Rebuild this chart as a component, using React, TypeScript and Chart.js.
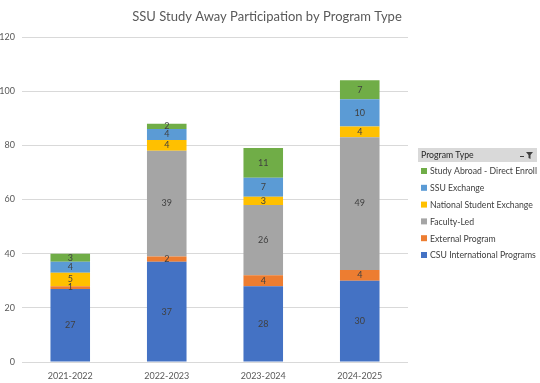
import React, { useEffect, useRef } from "react";
import { Chart, registerables } from "chart.js";

Chart.register(...registerables);

const categories = ["2021-2022", "2022-2023", "2023-2024", "2024-2025"];
const csuInternational = [27, 37, 28, 30];
const externalProgram = [1, 2, 4, 4];
const facultyLed = [0, 39, 26, 49];
const nationalStudentExchange = [5, 4, 3, 4];
const ssuExchange = [4, 4, 7, 10];
const studyAbroadDirect = [3, 2, 11, 7];
const yTicks = [0, 20, 40, 60, 80, 100, 120];

const FONT = "Lato, 'Open Sans', sans-serif";

const labelPlugin = {
  id: "segLabels",
  afterDatasetsDraw(chart: any) {
    const ctx = chart.ctx;
    ctx.save();
    ctx.font = `9px ${FONT}`;
    ctx.fillStyle = "#404040";
    ctx.textAlign = "center";
    ctx.textBaseline = "middle";
    chart.data.datasets.forEach((ds: any, i: number) => {
      const meta = chart.getDatasetMeta(i);
      meta.data.forEach((bar: any, j: number) => {
        const v = ds.data[j];
        if (!v) return;
        const y = (bar.y + bar.base) / 2;
        ctx.fillText(String(v), bar.x, y);
      });
    });
    ctx.restore();
  },
};

const legendPlugin = {
  id: "pivotLegend",
  afterDraw(chart: any) {
    const ctx = chart.ctx;
    ctx.save();
    const hx = 418, hy = 148, hw = 119, hh = 14;
    ctx.fillStyle = "#d9d9d9";
    ctx.fillRect(hx, hy, hw, hh);
    ctx.fillStyle = "#262626";
    ctx.font = `8.7px ${FONT}`;
    ctx.textBaseline = "middle";
    ctx.textAlign = "left";
    ctx.fillText("Program Type", hx + 3, hy + hh / 2 + 0.5);
    ctx.fillStyle = "#404040";
    ctx.beginPath();
    ctx.moveTo(hx + hw - 11, hy + 4);
    ctx.lineTo(hx + hw - 4, hy + 4);
    ctx.lineTo(hx + hw - 6.5, hy + 7);
    ctx.lineTo(hx + hw - 6.5, hy + 11);
    ctx.lineTo(hx + hw - 8.5, hy + 10);
    ctx.lineTo(hx + hw - 8.5, hy + 7);
    ctx.closePath();
    ctx.fill();
    ctx.fillRect(hx + hw - 17, hy + 8, 4, 1);
    const ds = chart.data.datasets;
    for (let k = 0; k < ds.length; k++) {
      const d = ds[ds.length - 1 - k];
      const y = 171 + k * 16.8;
      ctx.fillStyle = d.backgroundColor;
      ctx.fillRect(421, y - 3, 6, 6);
      ctx.fillStyle = "#404040";
      ctx.font = `8.7px ${FONT}`;
      ctx.fillText(d.label, 430, y + 0.5);
    }
    ctx.restore();
  },
};

const titlePlugin = {
  id: "topTitle",
  afterDraw(chart: any) {
    const ctx = chart.ctx;
    ctx.save();
    ctx.font = `13px ${FONT}`;
    ctx.fillStyle = "#595959";
    ctx.textAlign = "center";
    ctx.textBaseline = "middle";
    ctx.fillText("SSU Study Away Participation by Program Type", 267, 17);
    ctx.restore();
  },
};

export default function App() {
  const ref = useRef<HTMLCanvasElement>(null);
  useEffect(() => {
    document.body.style.margin = "0";
    const chart = new Chart(ref.current!, {
      type: "bar",
      data: {
        labels: categories,
        datasets: [
          { label: "CSU International Programs", data: csuInternational, backgroundColor: "#4472C4" },
          { label: "External Program", data: externalProgram, backgroundColor: "#ED7D31" },
          { label: "Faculty-Led", data: facultyLed, backgroundColor: "#A5A5A5" },
          { label: "National Student Exchange", data: nationalStudentExchange, backgroundColor: "#FFC000" },
          { label: "SSU Exchange", data: ssuExchange, backgroundColor: "#5B9BD5" },
          { label: "Study Abroad - Direct Enroll", data: studyAbroadDirect, backgroundColor: "#70AD47" },
        ],
      },
      options: {
        animation: false,
        responsive: false,
        maintainAspectRatio: false,
        layout: { padding: { top: 37, right: 132, bottom: 0, left: 0 } },
        datasets: { bar: { barPercentage: 0.41, categoryPercentage: 1 } },
        plugins: { legend: { display: false }, title: { display: false }, tooltip: { enabled: false } },
        scales: {
          x: {
            stacked: true,
            grid: { display: false },
            border: { display: false },
            afterFit: (s: any) => { s.height = 21; },
            ticks: { color: "#595959", font: { size: 9, family: FONT }, padding: 1 },
          },
          y: {
            stacked: true,
            min: 0,
            max: 120,
            afterBuildTicks: (s: any) => { s.ticks = yTicks.map((v) => ({ value: v })); },
            afterFit: (s: any) => { s.width = 22; },
            grid: { color: "#d9d9d9", drawTicks: false },
            border: { display: false },
            ticks: { color: "#595959", font: { size: 9, family: FONT }, padding: 7 },
          },
        },
      },
      plugins: [labelPlugin, legendPlugin, titlePlugin],
    });
    return () => chart.destroy();
  }, []);
  return (
    <div style={{ position: "relative", width: 540, height: 383, background: "#fff" }}>
      <canvas ref={ref} width={540} height={383} style={{ display: "block" }} />
    </div>
  );
}
